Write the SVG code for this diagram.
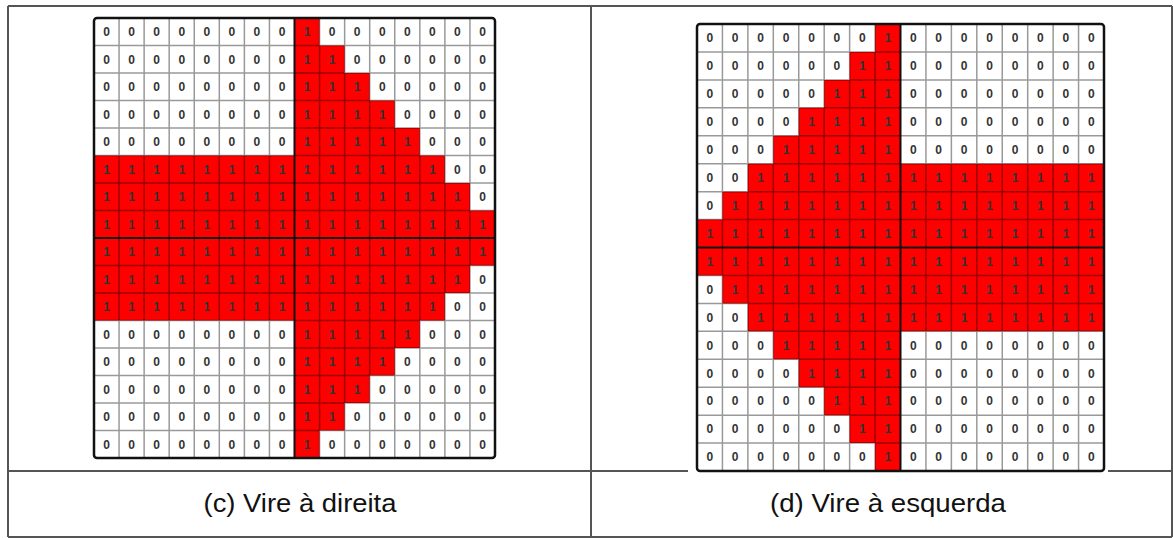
<svg xmlns="http://www.w3.org/2000/svg" width="1173" height="538" viewBox="0 0 1173 538">
<style>
.frame{stroke:#555;stroke-width:2;fill:none}
.bg{fill:#fff}
.red{fill:#ff0000}
.grid{stroke:#000;stroke-opacity:0.4;stroke-width:1.5;fill:none}
.axis{stroke:#111;stroke-width:2;fill:none}
.border{stroke:#111;stroke-width:2.5;fill:none}
.d{font-family:"Liberation Sans",Arial,sans-serif;font-size:12px;font-weight:bold;fill:#333;text-anchor:middle}
.cap{font-family:"Liberation Sans",Arial,sans-serif;font-size:25px;fill:#111;text-anchor:middle}
</style>
<rect width="1173" height="538" fill="#fff"/>
<g id="table">
<path class="frame" d="M8,6H1172M8,6V537M1172,6V537M8,537H1172M591,6V537M8,471H688M1108,471H1172"/>
</g>
<g id="grid-c" transform="translate(94,18)">
<rect class="bg" x="0" y="0" width="401" height="440"/>
<polygon class="red" points="200.5,0 225.56,0 225.56,27.5 250.63,27.5 250.63,55 275.69,55 275.69,82.5 300.75,82.5 300.75,110 325.81,110 325.81,137.5 350.88,137.5 350.88,165 375.94,165 375.94,192.5 401,192.5 401,247.5 375.94,247.5 375.94,275 350.88,275 350.88,302.5 325.81,302.5 325.81,330 300.75,330 300.75,357.5 275.69,357.5 275.69,385 250.63,385 250.63,412.5 225.56,412.5 225.56,440 200.5,440 200.5,302.5 0,302.5 0,137.5 200.5,137.5"/>
<path class="grid" d="M25.06,0V440M50.13,0V440M75.19,0V440M100.25,0V440M125.31,0V440M150.38,0V440M175.44,0V440M225.56,0V440M250.63,0V440M275.69,0V440M300.75,0V440M325.81,0V440M350.88,0V440M375.94,0V440M0,27.5H401M0,55H401M0,82.5H401M0,110H401M0,137.5H401M0,165H401M0,192.5H401M0,247.5H401M0,275H401M0,302.5H401M0,330H401M0,357.5H401M0,385H401M0,412.5H401"/>
<path class="axis" d="M200.5,0V440M0,220H401"/>
<rect class="border" x="0" y="0" width="401" height="440" rx="3"/>
<g class="d">
<text x="12.53 37.59 62.66 87.72 112.78 137.84 162.91 187.97 213.03 238.09 263.16 288.22 313.28 338.34 363.41 388.47" y="18">0000000010000000</text>
<text x="12.53 37.59 62.66 87.72 112.78 137.84 162.91 187.97 213.03 238.09 263.16 288.22 313.28 338.34 363.41 388.47" y="45.5">0000000011000000</text>
<text x="12.53 37.59 62.66 87.72 112.78 137.84 162.91 187.97 213.03 238.09 263.16 288.22 313.28 338.34 363.41 388.47" y="73">0000000011100000</text>
<text x="12.53 37.59 62.66 87.72 112.78 137.84 162.91 187.97 213.03 238.09 263.16 288.22 313.28 338.34 363.41 388.47" y="100.5">0000000011110000</text>
<text x="12.53 37.59 62.66 87.72 112.78 137.84 162.91 187.97 213.03 238.09 263.16 288.22 313.28 338.34 363.41 388.47" y="128">0000000011111000</text>
<text x="12.53 37.59 62.66 87.72 112.78 137.84 162.91 187.97 213.03 238.09 263.16 288.22 313.28 338.34 363.41 388.47" y="155.5">1111111111111100</text>
<text x="12.53 37.59 62.66 87.72 112.78 137.84 162.91 187.97 213.03 238.09 263.16 288.22 313.28 338.34 363.41 388.47" y="183">1111111111111110</text>
<text x="12.53 37.59 62.66 87.72 112.78 137.84 162.91 187.97 213.03 238.09 263.16 288.22 313.28 338.34 363.41 388.47" y="210.5">1111111111111111</text>
<text x="12.53 37.59 62.66 87.72 112.78 137.84 162.91 187.97 213.03 238.09 263.16 288.22 313.28 338.34 363.41 388.47" y="238">1111111111111111</text>
<text x="12.53 37.59 62.66 87.72 112.78 137.84 162.91 187.97 213.03 238.09 263.16 288.22 313.28 338.34 363.41 388.47" y="265.5">1111111111111110</text>
<text x="12.53 37.59 62.66 87.72 112.78 137.84 162.91 187.97 213.03 238.09 263.16 288.22 313.28 338.34 363.41 388.47" y="293">1111111111111100</text>
<text x="12.53 37.59 62.66 87.72 112.78 137.84 162.91 187.97 213.03 238.09 263.16 288.22 313.28 338.34 363.41 388.47" y="320.5">0000000011111000</text>
<text x="12.53 37.59 62.66 87.72 112.78 137.84 162.91 187.97 213.03 238.09 263.16 288.22 313.28 338.34 363.41 388.47" y="348">0000000011110000</text>
<text x="12.53 37.59 62.66 87.72 112.78 137.84 162.91 187.97 213.03 238.09 263.16 288.22 313.28 338.34 363.41 388.47" y="375.5">0000000011100000</text>
<text x="12.53 37.59 62.66 87.72 112.78 137.84 162.91 187.97 213.03 238.09 263.16 288.22 313.28 338.34 363.41 388.47" y="403">0000000011000000</text>
<text x="12.53 37.59 62.66 87.72 112.78 137.84 162.91 187.97 213.03 238.09 263.16 288.22 313.28 338.34 363.41 388.47" y="430.5">0000000010000000</text>
</g>
</g>
<g id="grid-d" transform="translate(697,24)">
<rect class="bg" x="0" y="0" width="407" height="447"/>
<polygon class="red" points="203.5,0 178.06,0 178.06,27.94 152.63,27.94 152.63,55.88 127.19,55.88 127.19,83.81 101.75,83.81 101.75,111.75 76.31,111.75 76.31,139.69 50.88,139.69 50.88,167.63 25.44,167.63 25.44,195.56 0,195.56 0,251.44 25.44,251.44 25.44,279.38 50.88,279.38 50.88,307.31 76.31,307.31 76.31,335.25 101.75,335.25 101.75,363.19 127.19,363.19 127.19,391.13 152.63,391.13 152.63,419.06 178.06,419.06 178.06,447 203.5,447 203.5,307.31 407,307.31 407,139.69 203.5,139.69"/>
<path class="grid" d="M25.44,0V447M50.88,0V447M76.31,0V447M101.75,0V447M127.19,0V447M152.63,0V447M178.06,0V447M228.94,0V447M254.38,0V447M279.81,0V447M305.25,0V447M330.69,0V447M356.13,0V447M381.56,0V447M0,27.94H407M0,55.88H407M0,83.81H407M0,111.75H407M0,139.69H407M0,167.63H407M0,195.56H407M0,251.44H407M0,279.38H407M0,307.31H407M0,335.25H407M0,363.19H407M0,391.13H407M0,419.06H407"/>
<path class="axis" d="M203.5,0V447M0,223.5H407"/>
<rect class="border" x="0" y="0" width="407" height="447" rx="3"/>
<g class="d">
<text x="12.72 38.16 63.59 89.03 114.47 139.91 165.34 190.78 216.22 241.66 267.09 292.53 317.97 343.41 368.84 394.28" y="18.2">0000000100000000</text>
<text x="12.72 38.16 63.59 89.03 114.47 139.91 165.34 190.78 216.22 241.66 267.09 292.53 317.97 343.41 368.84 394.28" y="46.1">0000001100000000</text>
<text x="12.72 38.16 63.59 89.03 114.47 139.91 165.34 190.78 216.22 241.66 267.09 292.53 317.97 343.41 368.84 394.28" y="74.1">0000011100000000</text>
<text x="12.72 38.16 63.59 89.03 114.47 139.91 165.34 190.78 216.22 241.66 267.09 292.53 317.97 343.41 368.84 394.28" y="102">0000111100000000</text>
<text x="12.72 38.16 63.59 89.03 114.47 139.91 165.34 190.78 216.22 241.66 267.09 292.53 317.97 343.41 368.84 394.28" y="130">0001111100000000</text>
<text x="12.72 38.16 63.59 89.03 114.47 139.91 165.34 190.78 216.22 241.66 267.09 292.53 317.97 343.41 368.84 394.28" y="157.9">0011111111111111</text>
<text x="12.72 38.16 63.59 89.03 114.47 139.91 165.34 190.78 216.22 241.66 267.09 292.53 317.97 343.41 368.84 394.28" y="185.8">0111111111111111</text>
<text x="12.72 38.16 63.59 89.03 114.47 139.91 165.34 190.78 216.22 241.66 267.09 292.53 317.97 343.41 368.84 394.28" y="213.8">1111111111111111</text>
<text x="12.72 38.16 63.59 89.03 114.47 139.91 165.34 190.78 216.22 241.66 267.09 292.53 317.97 343.41 368.84 394.28" y="241.7">1111111111111111</text>
<text x="12.72 38.16 63.59 89.03 114.47 139.91 165.34 190.78 216.22 241.66 267.09 292.53 317.97 343.41 368.84 394.28" y="269.6">0111111111111111</text>
<text x="12.72 38.16 63.59 89.03 114.47 139.91 165.34 190.78 216.22 241.66 267.09 292.53 317.97 343.41 368.84 394.28" y="297.6">0011111111111111</text>
<text x="12.72 38.16 63.59 89.03 114.47 139.91 165.34 190.78 216.22 241.66 267.09 292.53 317.97 343.41 368.84 394.28" y="325.5">0001111100000000</text>
<text x="12.72 38.16 63.59 89.03 114.47 139.91 165.34 190.78 216.22 241.66 267.09 292.53 317.97 343.41 368.84 394.28" y="353.5">0000111100000000</text>
<text x="12.72 38.16 63.59 89.03 114.47 139.91 165.34 190.78 216.22 241.66 267.09 292.53 317.97 343.41 368.84 394.28" y="381.4">0000011100000000</text>
<text x="12.72 38.16 63.59 89.03 114.47 139.91 165.34 190.78 216.22 241.66 267.09 292.53 317.97 343.41 368.84 394.28" y="409.3">0000001100000000</text>
<text x="12.72 38.16 63.59 89.03 114.47 139.91 165.34 190.78 216.22 241.66 267.09 292.53 317.97 343.41 368.84 394.28" y="437.3">0000000100000000</text>
</g>
</g>
<g id="captions">
<text class="cap" x="300" y="512" textLength="193" lengthAdjust="spacingAndGlyphs">(c) Vire à direita</text>
<text class="cap" x="888" y="512" textLength="236" lengthAdjust="spacingAndGlyphs">(d) Vire à esquerda</text>
</g>
</svg>
